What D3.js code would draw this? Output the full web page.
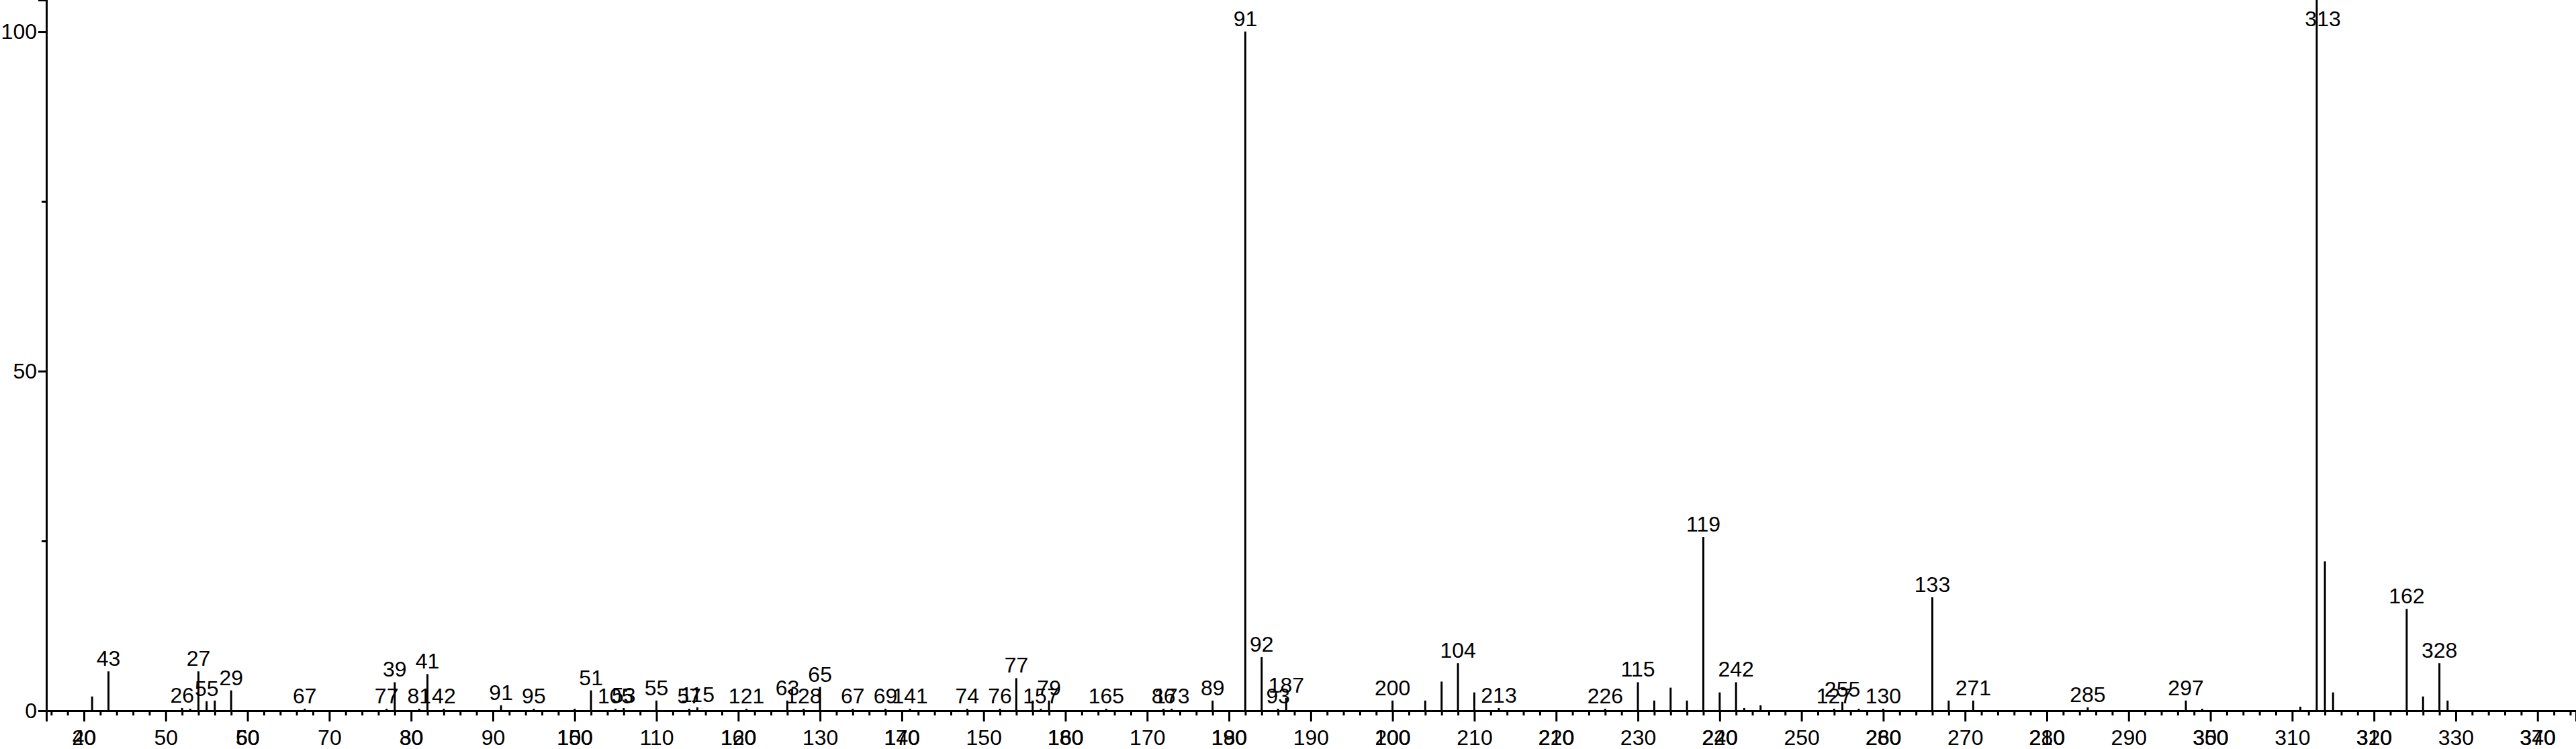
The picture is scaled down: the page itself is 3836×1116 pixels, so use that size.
<!DOCTYPE html>
<html><head><meta charset="utf-8">
<script src="https://cdn.jsdelivr.net/npm/d3@7"></script>
<style>
body{margin:0;background:#fff}
text{font-family:"Liberation Sans",Arial,Helvetica,sans-serif;fill:#000}
</style>
</head><body>
<svg id="chart" width="3836" height="1116"></svg>
<script>
// ---- data ----
const peakMz = [41,43,52,53,54,55,56,58,67,77,78,81,82,84,91,95,100,102,105,106,110,114,115,121,126,128,130,134,138,141,148,152,154,156,157,158,165,172,173,178,182,184,186,187,200,204,206,208,210,213,226,230,232,234,236,238,240,242,243,245,254,255,257,260,266,268,271,285,297,299,311,313,314,315,324,326,328,329];
const peakIntensity = [2.1,5.8,0.4,0.3,5.8,1.4,1.5,3.0,0.3,0.3,4.2,0.3,5.4,0.3,0.8,0.3,0.3,3.0,0.3,0.4,1.5,0.3,0.5,0.3,1.5,0.3,3.5,0.3,0.3,0.3,0.3,0.3,4.8,1.5,0.3,1.5,0.3,0.3,0.3,1.5,100,7.9,0.3,1.9,1.5,1.5,4.3,7.0,2.7,0.4,0.3,4.2,1.5,3.4,1.5,25.6,2.7,4.2,0.4,0.8,0.3,1.3,0.3,0.3,16.7,1.5,1.5,0.5,1.5,0.3,0.6,104.7,22,2.7,15.0,2.1,7.0,1.5];
const peakLabel = ["","43","26","","27","55","","29","67","77","39","81","41","42","91","95","","51","105","53","55","57","115","121","63","128","65","67","69","141","74","76","77","","157","79","165","86","173","89","91","92","93","187","200","","","104","","213","226","115","","","","119","","242","","","127","255","","130","133","","271","285","297","","","313","","","162","","328",""];
// where a label is centred when it is not centred on its own peak (m/z)
const labelShift = {313: 313.75};
const xMajorTicks = d3.range(40, 341, 10);
const xMinorTicks = d3.range(36, 345, 2).filter(v => v % 10 !== 0);
const xAltTickValues = [40,60,80,100,120,140,160,180,200,220,240,260,280,300,320,340];
const xAltTickLabels = ["20","50","30","150","160","170","180","190","100","210","220","280","210","350","310","370"];
const yMajorTicks = [0,50,100];
const yMinorTicks = [25,75];
const yMax = 104.65;

// ---- layout ----
const svg = d3.select("#chart");
const x = d3.scaleLinear().domain([35.4, 344.7]).range([69, 3836]);
const y = d3.scaleLinear().domain([0, yMax]).range([1059, 0]);
const FS = 32;

// bars
svg.append("g").selectAll("line").data(peakMz).join("line")
  .attr("x1", d => x(d)).attr("x2", d => x(d))
  .attr("y1", y(0)).attr("y2", (d,i) => y(Math.min(peakIntensity[i], yMax)))
  .attr("stroke", "#000").attr("stroke-width", 3);

// peak labels
svg.append("g").selectAll("text")
  .data(peakMz.map((m,i)=>({m, v:Math.min(peakIntensity[i],100), t:peakLabel[i]})).filter(d=>d.t))
  .join("text")
  .attr("x", d => x(labelShift[d.m] !== undefined ? labelShift[d.m] : d.m))
  .attr("y", d => y(d.v) - 8)
  .attr("text-anchor", "middle").attr("font-size", FS)
  .text(d => d.t);

// x axis
const gx = svg.append("g").attr("transform", `translate(0,${y(0)})`);
gx.call(d3.axisBottom(x).tickValues(xMajorTicks).tickSize(16).tickPadding(12).tickFormat(d3.format("d")));
gx.append("g").call(d3.axisBottom(x).tickValues(xMinorTicks).tickSize(7).tickFormat(""))
  .select(".domain").remove();
gx.selectAll("path.domain").attr("stroke-width", 3);
gx.selectAll(".tick line").attr("stroke-width", 3);
gx.selectAll("text").attr("font-size", FS).attr("font-family", null);
// overlapping secondary tick labels
gx.append("g").selectAll("text").data(xAltTickValues).join("text")
  .attr("x", d => x(d)).attr("y", 16 + 12).attr("dy", "0.71em")
  .attr("text-anchor", "middle").attr("font-size", FS)
  .text((d,i) => xAltTickLabels[i]);

// y axis
const gy = svg.append("g").attr("transform", `translate(${x.range()[0]},0)`);
gy.call(d3.axisLeft(y).tickValues(yMajorTicks).tickSize(12).tickPadding(2).tickFormat(d3.format("d")));
gy.append("g").call(d3.axisLeft(y).tickValues(yMinorTicks).tickSize(7).tickFormat(""))
  .select(".domain").remove();
gy.selectAll("path.domain").attr("stroke-width", 3);
gy.selectAll(".tick line").attr("stroke-width", 3);
gy.selectAll("text").attr("font-size", FS).attr("font-family", null);
</script>
</body></html>
